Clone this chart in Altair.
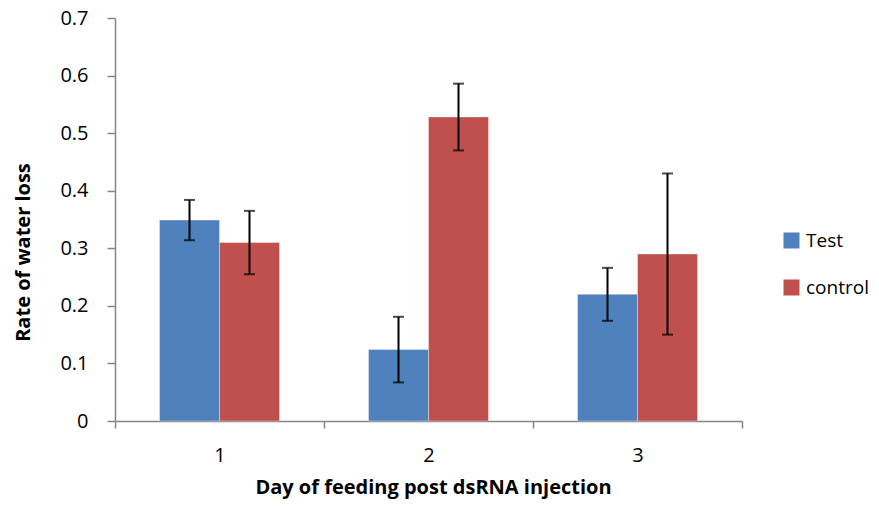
import altair as alt
import pandas as pd

days = ["1", "2", "3"]
series = ["Test", "control"]
test_vals = [0.349, 0.124, 0.220]
test_err = [0.035, 0.057, 0.046]
control_vals = [0.310, 0.528, 0.290]
control_err = [0.055, 0.058, 0.140]
y_ticks = [0, 0.1, 0.2, 0.3, 0.4, 0.5, 0.6, 0.7]
colors = ["#4F81BD", "#C0504D"]

rows = []
for d, v, e in zip(days, test_vals, test_err):
    rows.append({"day": d, "series": "Test", "value": v, "lo": v - e, "hi": v + e})
for d, v, e in zip(days, control_vals, control_err):
    rows.append({"day": d, "series": "control", "value": v, "lo": v - e, "hi": v + e})
df = pd.DataFrame(rows)

FONT = "Open Sans"
AX = "#868686"

x_enc = alt.X(
    "day:N",
    scale=alt.Scale(paddingInner=0, paddingOuter=0),
    axis=alt.Axis(
        title="Day of feeding post  dsRNA injection",
        labelAngle=0,
        grid=False,
        tickBand="extent",
        domainColor=AX,
        domainWidth=1.5,
        tickColor=AX,
        tickWidth=1.5,
        tickSize=7,
        labelPadding=17,
        labelFontSize=20,
        labelFont=FONT,
        labelColor="#000000",
        titleFont=FONT,
        titleFontSize=20,
        titleFontWeight="bold",
        titleColor="#000000",
        titleX=318,
        titleY=72,
        titleBaseline="alphabetic",
        titleAlign="center",
    ),
)
xo = alt.XOffset("series:N", sort=series, scale=alt.Scale(paddingInner=0, paddingOuter=0.742))

y_scale = alt.Scale(domain=[0, 0.7], nice=False)

bars = alt.Chart(df).mark_bar(stroke="#ffffff", strokeOpacity=0.35, strokeWidth=1).encode(
    x=x_enc,
    xOffset=xo,
    y=alt.Y(
        "value:Q",
        scale=y_scale,
        axis=alt.Axis(
            title="Rate of water loss",
            values=y_ticks,
            format="~g",
            grid=False,
            domainColor=AX,
            domainWidth=1.5,
            tickColor=AX,
            tickWidth=1.5,
            tickSize=8,
            labelPadding=19,
            labelFontSize=20,
            labelFont=FONT,
            labelColor="#000000",
            titleFont=FONT,
            titleFontSize=20,
            titleFontWeight="bold",
            titleColor="#000000",
            titleX=-92,
            titleY=234,
            titleAngle=-90,
            titleAlign="center",
            titleBaseline="middle",
        ),
    ),
    color=alt.Color(
        "series:N",
        sort=series,
        scale=alt.Scale(domain=series, range=colors),
        legend=alt.Legend(
            title=None,
            orient="none",
            legendX=667,
            legendY=213,
            symbolType="square",
            symbolSize=256,
            symbolStrokeWidth=0,
            labelFont=FONT,
            labelFontSize=19,
            labelColor="#000000",
            rowPadding=27,
            labelOffset=5,
        ),
    ),
)

rules = alt.Chart(df).mark_rule(color="#000000", strokeWidth=2).encode(
    x=alt.X("day:N"),
    xOffset=xo,
    y=alt.Y("lo:Q", scale=y_scale),
    y2="hi:Q",
)
caps_hi = alt.Chart(df).mark_tick(color="#000000", thickness=2, size=11, orient="horizontal").encode(
    x=alt.X("day:N"), xOffset=xo, y=alt.Y("hi:Q", scale=y_scale)
)
caps_lo = alt.Chart(df).mark_tick(color="#000000", thickness=2, size=11, orient="horizontal").encode(
    x=alt.X("day:N"), xOffset=xo, y=alt.Y("lo:Q", scale=y_scale)
)

chart = (
    alt.layer(bars, rules, caps_hi, caps_lo)
    .properties(
        width=627,
        height=403,
        autosize=alt.AutoSizeParams(type="none"),
        padding={"left": 107, "top": 10, "right": 129, "bottom": 79},
        view=alt.ViewBackground(strokeWidth=0, strokeOpacity=0),
    )
    .configure_view(strokeWidth=0, strokeOpacity=0)
    .configure(background="#ffffff")
)

chart.save("out.html", embed_options={"renderer": "svg", "actions": False})
